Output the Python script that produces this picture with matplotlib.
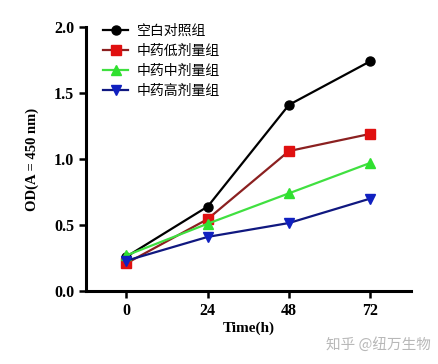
import matplotlib
matplotlib.use("Agg")
import matplotlib.pyplot as plt

times = [0, 24, 48, 72]
labels = ["空白对照组", "中药低剂量组", "中药中剂量组", "中药高剂量组"]
control = [0.26, 0.64, 1.41, 1.74]
low = [0.21, 0.545, 1.06, 1.19]
mid = [0.27, 0.51, 0.74, 0.97]
high = [0.23, 0.41, 0.515, 0.70]
yticks = [0.0, 0.5, 1.0, 1.5, 2.0]

fig = plt.figure(figsize=(4.38, 3.64), dpi=100)
ax = fig.add_axes([0.196, 0.2005, 0.742, 0.7255])

series = [
    (control, "black", "black", "o", 6.5),
    (low, "#8b2020", "#e01010", "s", 6.5),
    (mid, "#40e040", "#30e030", "^", 6.5),
    (high, "#101880", "#1020c0", "v", 6.5),
]
for (vals, lc, mc, mk, ms), lab in zip(series, labels):
    ax.plot(times, vals, color=lc, marker=mk, markersize=ms, markerfacecolor=mc,
            markeredgecolor=mc, linewidth=1.6, label=lab)

ax.set_xlim(-12, 84)
ax.set_ylim(0, 2.0)
ax.set_xticks(times)
ax.set_yticks(yticks)
ax.set_yticklabels([f"{v:.1f}" for v in yticks])
for s in ["top", "right"]:
    ax.spines[s].set_visible(False)
for s in ["left", "bottom"]:
    ax.spines[s].set_linewidth(2.2)
ax.tick_params(width=1.8, length=5, direction="out")
for t in ax.get_xticklabels() + ax.get_yticklabels():
    t.set_fontfamily("Liberation Serif")
    t.set_fontweight("bold")
    t.set_fontsize(11.5)

ax.set_ylabel("OD(A = 450 nm)", fontfamily="Liberation Serif", fontweight="bold", fontsize=10.5, labelpad=11)
ax.set_xlabel("Time(h)", fontfamily="Liberation Serif", fontweight="bold", fontsize=11, labelpad=2)

leg = ax.legend(loc="upper left", bbox_to_anchor=(0.015, 1.06), frameon=False,
                prop={"family": ["Noto Sans CJK SC", "DejaVu Sans"], "size": 10},
                handlelength=1.8, labelspacing=0.45, handletextpad=0.6)

fig.text(0.865, 0.055, "知乎 @纽万生物", fontfamily=["Noto Sans CJK SC", "DejaVu Sans"],
         fontsize=10.5, color="#b8b8b8", ha="center", va="center")

fig.savefig("out.png", dpi=100)
